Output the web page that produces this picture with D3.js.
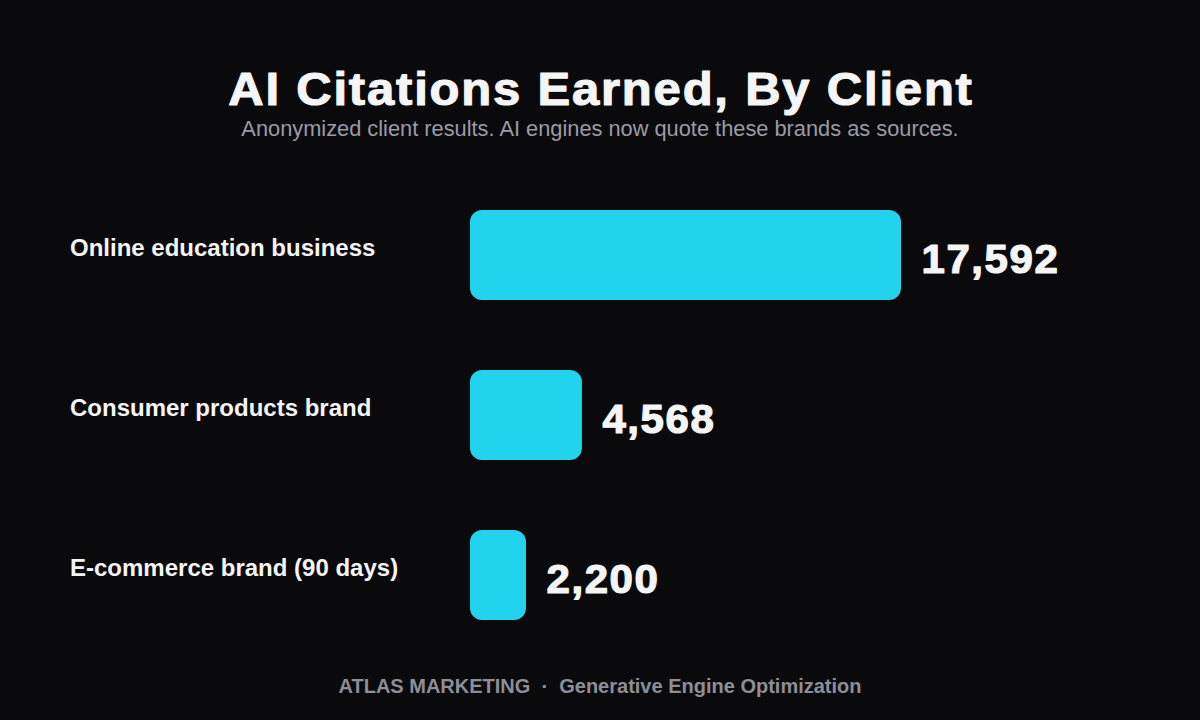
<!DOCTYPE html>
<html>
<head>
<meta charset="utf-8">
<script src="https://cdn.jsdelivr.net/npm/d3@7"></script>
<style>
  html, body { margin: 0; padding: 0; background: #0a0a0d; }
  svg { display: block; font-family: "Liberation Sans", Arial, sans-serif; }
</style>
</head>
<body>
<div id="chart"></div>
<script>
var clients = ["Online education business", "Consumer products brand", "E-commerce brand (90 days)"];
var citations = [17592, 4568, 2200];

var width = 1200,
  height = 720,
  margins = { left: 470, top: 175, bottom: 65 },
  minBar = 56;

var svg = d3
  .select("#chart")
  .append("svg")
  .attr("width", width)
  .attr("height", height);

svg.append("rect").attr("width", width).attr("height", height).attr("fill", "#0a0a0d");

// title: heavy, a bit wide
svg
  .append("g")
  .attr("transform", `translate(${width / 2 + 1},105) scale(1.065,1)`)
  .append("text")
  .attr("text-anchor", "middle")
  .attr("font-size", "46px")
  .attr("font-weight", "bold")
  .attr("letter-spacing", "1.7px")
  .attr("fill", "#f5f5f5")
  .attr("stroke", "#f5f5f5")
  .attr("stroke-width", 1.1)
  .attr("stroke-linejoin", "round")
  .text("AI Citations Earned, By Client");

svg
  .append("text")
  .attr("x", width / 2)
  .attr("y", 136)
  .attr("text-anchor", "middle")
  .attr("font-size", "21.8px")
  .attr("fill", "#9b9ba3")
  .text("Anonymized client results. AI engines now quote these brands as sources.");

var data = clients.map(function (c, i) {
  return { client: c, value: citations[i] };
});

var yScale = d3
  .scaleBand()
  .domain(clients)
  .range([margins.top, height - margins.bottom])
  .paddingInner(70 / 160)
  .paddingOuter(35 / 160);

var xScale = d3
  .scaleLinear()
  .domain([0, d3.max(citations)])
  .range([margins.left, margins.left + 431]);

var fmt = d3.format(",");

function barWidth(d) {
  return Math.max(xScale(d.value) - xScale(0), minBar);
}

svg
  .selectAll(".bar")
  .data(data)
  .enter()
  .append("rect")
  .attr("class", "bar")
  .attr("x", xScale(0))
  .attr("y", function (d) { return yScale(d.client); })
  .attr("width", barWidth)
  .attr("height", yScale.bandwidth())
  .attr("rx", 12)
  .attr("ry", 12)
  .attr("fill", "#22d3ee");

svg
  .selectAll(".label")
  .data(data)
  .enter()
  .append("text")
  .attr("class", "label")
  .attr("x", 70)
  .attr("y", function (d) { return yScale(d.client) + yScale.bandwidth() / 2 + 0.5; })
  .attr("font-size", "24px")
  .attr("font-weight", "bold")
  .attr("fill", "#f5f5f5")
  .text(function (d) { return d.client; });

svg
  .selectAll(".value")
  .data(data)
  .enter()
  .append("g")
  .attr("class", "value")
  .attr("transform", function (d) {
    return `translate(${xScale(0) + barWidth(d) + 20.5},${yScale(d.client) + yScale.bandwidth() / 2 + 18}) scale(1.05,1)`;
  })
  .append("text")
  .attr("font-size", "40px")
  .attr("font-weight", "bold")
  .attr("letter-spacing", "1.5px")
  .attr("fill", "#f5f5f5")
  .attr("stroke", "#f5f5f5")
  .attr("stroke-width", 1.2)
  .attr("stroke-linejoin", "round")
  .text(function (d) { return fmt(d.value); });

svg
  .append("text")
  .attr("x", width / 2)
  .attr("y", 693)
  .attr("text-anchor", "middle")
  .attr("font-size", "20px")
  .attr("font-weight", "bold")
  .attr("fill", "#8e8e96")
  .attr("xml:space", "preserve")
  .text("ATLAS MARKETING  \u00b7  Generative Engine Optimization");
</script>
</body>
</html>
